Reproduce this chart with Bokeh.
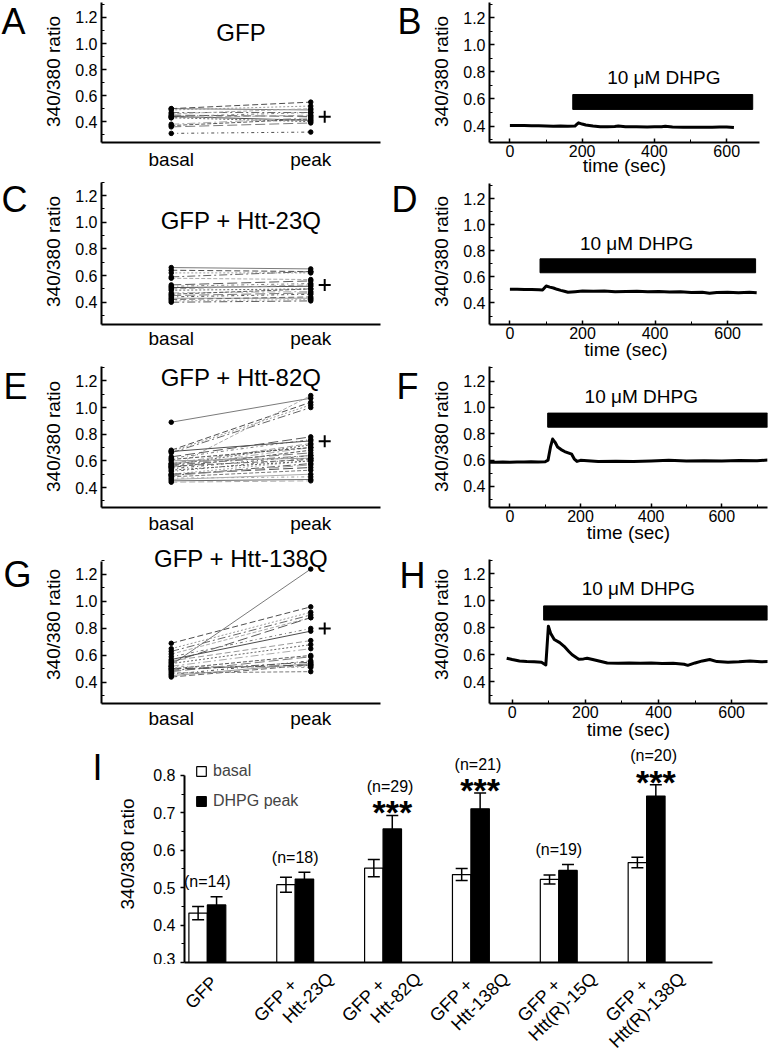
import math
from bokeh.plotting import figure
from bokeh.layouts import column, row
from bokeh.models import (Range1d, FixedTicker, Label, Whisker, TeeHead, Legend,
                          LegendItem, ColumnDataSource, PrintfTickFormatter)
from bokeh.core.properties import value
from bokeh.embed import file_html
from bokeh.resources import INLINE

FONT = "Liberation Sans"

# ---------------- paired single-cell data (basal -> peak) ----------------
gfp_basal = [0.50, 0.50, 0.49, 0.47, 0.46, 0.45, 0.44, 0.44, 0.43, 0.43, 0.38, 0.37, 0.36, 0.31]
gfp_peak = [0.49, 0.55, 0.52, 0.47, 0.50, 0.44, 0.47, 0.41, 0.45, 0.40, 0.43, 0.42, 0.39, 0.32]
gfp_mean_peak = 0.437

htt23_basal = [0.66, 0.64, 0.62, 0.59, 0.58, 0.53, 0.52, 0.51, 0.50, 0.49, 0.47, 0.46,
               0.45, 0.44, 0.43, 0.42, 0.41, 0.40]
htt23_peak = [0.65, 0.63, 0.62, 0.63, 0.57, 0.56, 0.54, 0.52, 0.53, 0.50, 0.48, 0.50,
              0.47, 0.46, 0.43, 0.44, 0.42, 0.41]
htt23_mean_peak = 0.53

htt82_basal = [0.89, 0.68, 0.67, 0.66, 0.55, 0.63, 0.62, 0.67, 0.58, 0.57, 0.56, 0.55, 0.58,
               0.54, 0.60, 0.56, 0.50, 0.49, 0.48, 0.50, 0.47, 0.45, 0.44, 0.53, 0.57, 0.61,
               0.49, 0.52, 0.46]
htt82_peak = [1.07, 1.04, 1.02, 1.00, 1.09, 0.78, 0.76, 0.75, 0.73, 0.72, 0.70, 0.68, 0.66,
              0.64, 0.62, 0.61, 0.60, 0.58, 0.53, 0.55, 0.48, 0.46, 0.45, 0.60, 0.64, 0.70,
              0.57, 0.62, 0.50]
htt82_mean_peak = 0.748

htt138_basal = [0.53, 0.69, 0.65, 0.63, 0.61, 0.55, 0.59, 0.57, 0.56, 0.54, 0.52, 0.50,
                0.48, 0.46, 0.45, 0.44, 0.51, 0.49, 0.47, 0.50, 0.52]
htt138_peak = [1.24, 0.96, 0.92, 0.90, 0.88, 0.88, 0.80, 0.78, 0.71, 0.68, 0.65, 0.60,
               0.59, 0.56, 0.54, 0.53, 0.52, 0.55, 0.48, 0.53, 0.51]
htt138_mean_peak = 0.80

pair_labels = ["basal", "peak"]

# ---------------- example traces ----------------
b_time = [0, 20, 40, 60, 80, 100, 120, 140, 160, 180, 185, 190, 200, 210, 230, 250, 270,
          290, 300, 320, 350, 380, 400, 420, 430, 450, 480, 500, 530, 560, 580, 600, 620]
b_ratio = [0.405, 0.405, 0.404, 0.403, 0.402, 0.400, 0.398, 0.400, 0.399, 0.400, 0.412,
           0.424, 0.415, 0.408, 0.400, 0.396, 0.395, 0.397, 0.400, 0.396, 0.395, 0.394,
           0.395, 0.396, 0.399, 0.394, 0.392, 0.391, 0.391, 0.392, 0.393, 0.393, 0.389]
b_dhpg = [174, 672]

d_time = [0, 20, 40, 60, 80, 90, 100, 110, 120, 130, 140, 150, 160, 180, 200, 230, 260,
          290, 320, 350, 380, 410, 440, 470, 500, 530, 550, 570, 600, 630, 660, 680]
d_ratio = [0.505, 0.505, 0.503, 0.504, 0.502, 0.500, 0.530, 0.522, 0.515, 0.505, 0.497,
           0.490, 0.483, 0.487, 0.492, 0.490, 0.492, 0.486, 0.488, 0.490, 0.487, 0.489,
           0.485, 0.487, 0.480, 0.483, 0.475, 0.480, 0.483, 0.479, 0.482, 0.478]
d_dhpg = [83, 677]

f_time = [-60, -40, -20, 0, 20, 40, 60, 80, 100, 108, 115, 121, 128, 135, 145, 155, 165,
          175, 182, 190, 200, 220, 250, 300, 350, 400, 450, 500, 550, 600, 650, 700, 730]
f_ratio = [0.583, 0.583, 0.585, 0.584, 0.586, 0.585, 0.587, 0.586, 0.588, 0.600, 0.700,
           0.760, 0.735, 0.700, 0.680, 0.665, 0.655, 0.645, 0.610, 0.590, 0.598, 0.595,
           0.590, 0.592, 0.590, 0.594, 0.598, 0.593, 0.596, 0.594, 0.597, 0.595, 0.600]
f_dhpg = [107, 730]

h_time = [-15, 0, 20, 40, 60, 80, 92, 99, 105, 115, 130, 142, 155, 164, 175, 182, 195, 205,
          220, 240, 260, 290, 320, 350, 380, 410, 440, 470, 480, 500, 520, 540, 560, 590,
          620, 650, 680, 700]
h_ratio = [0.575, 0.565, 0.555, 0.550, 0.548, 0.545, 0.525, 0.812, 0.760, 0.713, 0.690,
           0.663, 0.625, 0.600, 0.580, 0.568, 0.570, 0.575, 0.565, 0.552, 0.540, 0.538,
           0.540, 0.537, 0.540, 0.535, 0.538, 0.530, 0.522, 0.540, 0.555, 0.565, 0.550,
           0.545, 0.548, 0.555, 0.548, 0.550]
h_dhpg = [86, 698]

time_ticks = [0, 200, 400, 600]

# ---------------- summary (panel I) ----------------
groups = ["GFP", "GFP +\nHtt-23Q", "GFP +\nHtt-82Q", "GFP +\nHtt-138Q",
          "GFP +\nHtt(R)-15Q", "GFP +\nHtt(R)-138Q"]
basal_mean = [0.432, 0.508, 0.552, 0.535, 0.522, 0.567]
basal_sem = [0.018, 0.020, 0.023, 0.016, 0.012, 0.014]
peak_mean = [0.454, 0.523, 0.657, 0.711, 0.546, 0.745]
peak_sem = [0.022, 0.018, 0.036, 0.042, 0.016, 0.030]
n_cells = [14, 18, 29, 21, 19, 20]
signif = ["", "", "***", "***", "", "***"]

DASHES = ["solid", "6 3", "2 2", "8 3 2 3", "4 2", "10 4", "3 3 1 3"]
GREYS = ["#7a7a7a", "#4d4d4d", "#9a9a9a", "#666666", "#ababab", "#5a5a5a"]


def bare_fig(width, height, xr, yr, mbl=0, mbr=0, mbb=0):
    p = figure(width=width, height=height, x_range=xr, y_range=yr,
               output_backend="svg", toolbar_location=None,
               x_axis_location=None, y_axis_location=None, min_border=0,
               min_border_left=mbl, min_border_right=mbr, min_border_top=0,
               min_border_bottom=mbb)
    p.outline_line_color = None
    p.grid.visible = False
    return p


def letter_fig(letter, width, height, mbb, x, y):
    # frame spans from the row top down to the row's shared bottom border;
    # y is measured in pixels from the row top
    p = bare_fig(width, height, Range1d(0, width), Range1d(height - mbb, 0), mbb=mbb)
    p.text(x=[x], y=[y], text=[letter], text_font=value(FONT), text_font_size="36px",
           text_align="left", text_baseline="middle", text_color="black")
    return p


def base_fig(width, height, xr, yr, mbl, mbr, mbb):
    p = figure(width=width, height=height, x_range=Range1d(*xr), y_range=Range1d(*yr),
               output_backend="svg", toolbar_location=None, min_border=0,
               min_border_left=mbl, min_border_right=mbr,
               min_border_top=0, min_border_bottom=mbb)
    p.outline_line_color = None
    p.xgrid.visible = False
    p.ygrid.visible = False
    for ax in (p.xaxis[0], p.yaxis[0]):
        ax.axis_line_width = 2
        ax.axis_line_color = "black"
        ax.major_label_text_font = FONT
        ax.axis_label_text_font = FONT
        ax.axis_label_text_font_style = "normal"
        ax.major_label_text_color = "black"
        ax.axis_label_text_color = "black"
        ax.major_tick_line_color = "black"
        ax.minor_tick_line_color = "black"
        ax.major_tick_line_width = 1.5
    return p


def extended(yr, height, mbt, mbb):
    # plot area reaches the row top; keep the same pixels per unit as a frame starting mbt lower
    frame_h = height - mbt - mbb
    return (yr[0], yr[1] + mbt * (yr[1] - yr[0]) / frame_h)


def ratio_axis(p, standoff, bounds):
    ax = p.yaxis[0]
    ax.bounds = bounds
    ax.ticker = FixedTicker(ticks=[0.4, 0.6, 0.8, 1.0, 1.2],
                            minor_ticks=[0.3, 0.5, 0.7, 0.9, 1.1, 1.3])
    ax.formatter = PrintfTickFormatter(format="%.1f")
    ax.major_tick_in = 5
    ax.major_tick_out = 0
    ax.minor_tick_in = 3
    ax.minor_tick_out = 0
    ax.major_label_text_font_size = "16px"
    ax.major_label_standoff = 4
    ax.axis_label = "340/380 ratio"
    ax.axis_label_text_font_size = "19px"
    ax.axis_label_standoff = standoff


def paired_panel(title, basal, peak, mean_pk, yr, height, mbt, mbb, title_sy, lab_standoff):
    p = base_fig(344, height, (-0.5, 1.5), extended(yr, height, mbt, mbb), 60, 4, mbb)
    for i, (b, k) in enumerate(zip(basal, peak)):
        p.line([0, 1], [b, k], line_color=GREYS[i % len(GREYS)], line_width=1,
               line_dash=DASHES[i % len(DASHES)])
    p.scatter([0] * len(basal), basal, size=4.5, color="black")
    p.scatter([1] * len(peak), peak, size=4.5, color="black")
    p.scatter([1.1], [mean_pk], marker="cross", size=12, line_width=2, color="black")
    ratio_axis(p, 8, yr)
    xa = p.xaxis[0]
    xa.ticker = FixedTicker(ticks=[0, 1])
    xa.major_label_overrides = {0: pair_labels[0], 1: pair_labels[1]}
    xa.major_label_text_font_size = "19px"
    xa.major_tick_in = 0
    xa.major_tick_out = 0
    xa.minor_tick_line_color = None
    xa.major_label_standoff = lab_standoff
    p.add_layout(Label(x=0.5, y=title_sy, x_units="data", y_units="screen", text=title,
                       text_font=FONT, text_font_size="24px", text_align="center",
                       text_baseline="middle", text_color="black"))
    return p


def trace_panel(t, r, win, xr, yr, height, mbr, mbt, mbb, txt_x, txt_y, bar_lo, bar_hi,
                lab_standoff):
    p = base_fig(340, height, xr, extended(yr, height, mbt, mbb), 57, mbr, mbb)
    p.quad(left=[win[0]], right=[win[1]], bottom=[bar_lo], top=[bar_hi], color="black")
    p.text(x=[txt_x], y=[txt_y], text=["10 \u03bcM DHPG"], text_font=value(FONT),
           text_font_size="19px", text_align="center", text_baseline="middle",
           text_color="black")
    p.line(t, r, line_width=3, color="black", line_join="round")
    ratio_axis(p, 8, yr)
    xa = p.xaxis[0]
    xa.ticker = FixedTicker(ticks=time_ticks, minor_ticks=list(range(-100, 800, 100)))
    xa.major_tick_in = 4
    xa.major_tick_out = 0
    xa.minor_tick_in = 3
    xa.minor_tick_out = 0
    xa.major_label_text_font_size = "16px"
    xa.major_label_standoff = 2
    xa.axis_label = "time (sec)"
    xa.axis_label_text_font_size = "19px"
    xa.axis_label_standoff = lab_standoff
    return p


# row 1 (height 178)
pA = paired_panel("GFP", gfp_basal, gfp_peak, gfp_mean_peak, (0.24, 1.315),
                  178, 2, 35, 110, 6)
pB = trace_panel(b_time, b_ratio, b_dhpg, (-56.4, 690.8), (0.279, 1.312), 178, 9, 2, 35,
                 426, 0.756, 0.523, 0.633, -5)
# row 2 (height 187)
pC = paired_panel("GFP + Htt-23Q", htt23_basal, htt23_peak, htt23_mean_peak,
                  (0.233, 1.298), 187, 4, 41, 104, 3)
pD = trace_panel(d_time, d_ratio, d_dhpg, (-56.2, 696), (0.235, 1.317), 187, 6, 5, 41,
                 349, 0.86, 0.632, 0.739, -3)
# row 3 (height 180)
pE = paired_panel("GFP + Htt-82Q", htt82_basal, htt82_peak, htt82_mean_peak,
                  (0.25, 1.308), 180, 1, 38, 130, 5)
pF = trace_panel(f_time, f_ratio, f_dhpg, (-57.8, 729.6), (0.24, 1.311), 180, 1, 1, 38,
                 372, 1.08, 0.85, 0.957, -3)
# row 4 (height 200)
pG = paired_panel("GFP + Htt-138Q", htt138_basal, htt138_peak, htt138_mean_peak,
                  (0.244, 1.296), 200, 16, 42, 145, 4)
pH = trace_panel(h_time, h_ratio, h_dhpg, (-62, 698), (0.24, 1.305), 200, 1, 14, 42,
                 345, 1.087, 0.857, 0.962, -2)

rows = [
    row(letter_fig("A", 40, 178, 35, 1, 21), pA, letter_fig("B", 44, 178, 35, 13, 21), pB),
    row(letter_fig("C", 40, 187, 41, 1, 21), pC, letter_fig("D", 44, 187, 41, 7, 21), pD),
    row(letter_fig("E", 40, 180, 38, 3, 21), pE, letter_fig("F", 44, 180, 38, 12, 21), pF),
    row(letter_fig("G", 40, 200, 42, 3, 29), pG, letter_fig("H", 44, 200, 42, 15, 30), pH),
]

# ---------------- panel I ----------------
pI = base_fig(658, 219, (-0.26, 5.75), (0.3, 0.88), 74, 56, 2)
xs = list(range(len(groups)))
xb = [x - 0.105 for x in xs]
xp = [x + 0.105 for x in xs]
rb = pI.vbar(x=xb, top=basal_mean, bottom=0, width=0.21, fill_color="white",
             line_color="black", line_width=1.2)
rp = pI.vbar(x=xp, top=peak_mean, bottom=0, width=0.21, fill_color="black",
             line_color="black", line_width=1.2)
for xx, m, e in ((xb, basal_mean, basal_sem), (xp, peak_mean, peak_sem)):
    src = ColumnDataSource(dict(x=xx, lo=[a - b for a, b in zip(m, e)],
                                hi=[a + b for a, b in zip(m, e)]))
    w = Whisker(source=src, base="x", lower="lo", upper="hi", dimension="height",
                line_color="black", line_width=1.5,
                upper_head=TeeHead(size=12, line_width=1.5, line_color="black"),
                lower_head=TeeHead(size=12, line_width=1.5, line_color="black"))
    w.level = "overlay"
    pI.add_layout(w)

tops = [a + b for a, b in zip(peak_mean, peak_sem)]
pI.text(x=[x + (0.08 if s else 0.0) for x, s in zip(xs, signif)], y=tops,
        text=[f"(n={n})" for n in n_cells],
        y_offset=[-29 if s else -15 for s in signif],
        text_font=value(FONT), text_font_size="16px", text_align="center",
        text_baseline="middle", text_color="black")
sig_x = [x for x, s in zip(xp, signif) if s]
sig_y = [t for t, s in zip(tops, signif) if s]
pI.text(x=sig_x, y=sig_y, text=[s for s in signif if s], y_offset=-3,
        text_font=value(FONT), text_font_size="34px", text_font_style="bold",
        text_align="center", text_baseline="middle", text_color="black")

ya = pI.yaxis[0]
ya.bounds = (0.3, 0.8)
ya.ticker = FixedTicker(ticks=[0.3, 0.4, 0.5, 0.6, 0.7, 0.8],
                        minor_ticks=[0.35, 0.45, 0.55, 0.65, 0.75])
ya.formatter = PrintfTickFormatter(format="%.1f")
ya.major_tick_out = 4
ya.major_tick_in = 0
ya.minor_tick_out = 3
ya.minor_tick_in = 0
ya.major_label_text_font_size = "16px"
ya.major_label_standoff = 5
ya.axis_label = "340/380 ratio"
ya.axis_label_text_font_size = "19px"
ya.axis_label_standoff = 12

xa = pI.xaxis[0]
xa.ticker = FixedTicker(ticks=[])
xa.major_tick_in = 0
xa.major_tick_out = 0
xa.major_label_standoff = 0
xa.axis_label_standoff = 0

leg = Legend(items=[LegendItem(label="basal", renderers=[rb]),
                    LegendItem(label="DHPG peak", renderers=[rp])],
             location=(11, 152), glyph_width=12, glyph_height=12, label_height=14,
             label_standoff=6, spacing=12, padding=0, margin=0,
             label_text_font=FONT, label_text_font_size="16px",
             background_fill_alpha=0, border_line_color=None)
pI.add_layout(leg)

# category labels below panel I, sharing its x scale; two rotated lines per group
line1 = [g.split("\n")[0] for g in groups]
line2 = [g.split("\n")[1] if "\n" in g else "" for g in groups]
pIlab = bare_fig(658, 86, pI.x_range, Range1d(88, 2), mbl=74, mbr=56)
pIlab.text(x=xs, y=[19 if l else 17 for l in line2], text=line1,
           x_offset=[-1 if l else 7 for l in line2], angle=math.pi / 4,
           text_align="right", text_baseline="middle", text_font=value(FONT),
           text_font_size="18px", text_color="black")
pIlab.text(x=xs, y=[13] * len(xs), text=line2, x_offset=35, angle=math.pi / 4,
           text_align="right", text_baseline="middle", text_font=value(FONT),
           text_font_size="18px", text_color="black")

rowI = row(letter_fig("I", 110, 305, 0, 92, 22), column(pI, pIlab))

layout = column(*rows, rowI)

open("out.html", "w").write(file_html(layout, INLINE))
